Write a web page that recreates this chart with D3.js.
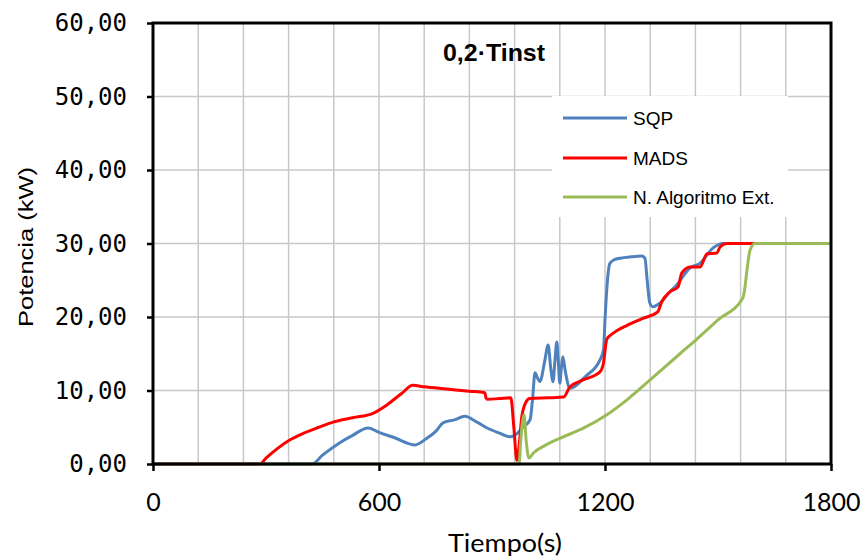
<!DOCTYPE html>
<html>
<head>
<meta charset="utf-8">
<script src="https://cdn.jsdelivr.net/npm/d3@7"></script>
<style>
  body { margin: 0; background: #fff; }
  svg { display: block; }
</style>
</head>
<body>
<div id="chart"></div>
<script>
// Series: time (s) and power (kW)
const sqpTime  = [0, 422, 450, 496, 530, 571, 600, 640, 696, 727, 750, 770, 800, 828, 860, 887, 920, 948, 970, 982, 1001, 1008, 1014, 1020, 1027, 1040, 1049, 1056, 1062, 1067, 1072, 1076, 1080, 1084, 1088, 1095, 1107, 1150, 1186, 1196, 1200, 1205, 1213, 1225, 1240, 1270, 1298, 1306, 1312, 1319, 1327, 1346, 1370, 1391, 1426, 1452, 1487, 1513, 1800];
const sqpPower = [0, 0, 1.2, 2.9, 3.9, 4.9, 4.3, 3.6, 2.6, 3.5, 4.4, 5.6, 6.0, 6.5, 5.7, 4.9, 4.2, 3.7, 4.3, 5.0, 6.0, 9.0, 12.4, 11.8, 11.2, 14.0, 16.2, 13.0, 11.2, 14.0, 16.6, 14.0, 11.0, 13.0, 14.6, 12.5, 10.3, 12.0, 14.1, 15.5, 19.6, 24.0, 27.3, 27.8, 28.0, 28.2, 28.3, 28.0, 25.0, 21.9, 21.4, 21.9, 23.3, 24.4, 26.7, 27.3, 29.4, 30.0, 30.0];

const madsTime  = [0, 284, 300, 330, 364, 400, 440, 478, 530, 584, 620, 660, 690, 720, 780, 840, 881, 884, 888, 920, 950, 958, 966, 972, 979, 990, 1000, 1050, 1090, 1107, 1140, 1186, 1195, 1205, 1222, 1260, 1300, 1340, 1350, 1372, 1394, 1404, 1426, 1452, 1471, 1497, 1505, 1524, 1800];
const madsPower = [0, 0, 0.8, 2.1, 3.3, 4.2, 5.0, 5.7, 6.3, 6.9, 8.0, 9.6, 10.7, 10.5, 10.2, 9.9, 9.7, 9.0, 8.8, 8.9, 9.0, 5.0, 0.5, 2.5, 6.4, 8.4, 8.9, 9.0, 9.1, 10.5, 11.4, 12.5, 13.5, 17.0, 17.8, 18.9, 19.8, 20.7, 22.0, 23.4, 24.1, 26.0, 26.8, 26.8, 28.6, 28.7, 29.5, 30.0, 30.0];

const extTime  = [0, 972, 976, 985, 991, 998, 1010, 1040, 1080, 1140, 1205, 1260, 1319, 1399, 1444, 1500, 1566, 1570, 1577, 1585, 1598, 1800];
const extPower = [0, 0, 3.0, 6.7, 3.0, 0.8, 1.5, 2.5, 3.5, 4.8, 6.7, 8.8, 11.4, 15.0, 17.0, 19.6, 22.6, 23.5, 26.4, 29.1, 30.0, 30.0];

const seriesNames = ["SQP", "MADS", "N. Algoritmo Ext."];
const seriesColors = ["#4f81bd", "#ff0000", "#9bbb59"];

const xTicks = [0, 600, 1200, 1800];
const xGrid = d3.range(0, 1801, 120);
const yTicks = [0, 10, 20, 30, 40, 50, 60];

const chartTitle = "0,2·Tinst";
const xTitle = "Tiempo(s)";
const yTitle = "Potencia (kW)";

// Layout
const W = 864, H = 559;
const plot = {left: 153, right: 831, top: 23, bottom: 464};

const svg = d3.select("#chart").append("svg")
    .attr("width", W)
    .attr("height", H);

const x = d3.scaleLinear().domain([0, 1800]).range([plot.left, plot.right]);
const y = d3.scaleLinear().domain([0, 60]).range([plot.bottom, plot.top]);

const esFormat = d3.formatLocale({decimal: ",", thousands: ".", grouping: [3], currency: ["", ""]}).format(".2f");

// Gridlines
svg.append("g")
    .selectAll("line")
    .data(xGrid)
    .enter().append("line")
    .attr("x1", d => x(d)).attr("x2", d => x(d))
    .attr("y1", plot.top).attr("y2", plot.bottom)
    .attr("stroke", "#c8c8c8")
    .attr("stroke-width", 1.5);

svg.append("g")
    .selectAll("line")
    .data(yTicks)
    .enter().append("line")
    .attr("x1", plot.left).attr("x2", plot.right)
    .attr("y1", d => y(d)).attr("y2", d => y(d))
    .attr("stroke", "#c8c8c8")
    .attr("stroke-width", 1.5);

// Legend background hides the grid behind it
const legend = svg.append("g");
legend.append("rect")
    .attr("x", 552).attr("y", 96)
    .attr("width", 236).attr("height", 121)
    .attr("fill", "#fff");

// Series lines
const series = [
    {time: sqpTime, power: sqpPower},
    {time: madsTime, power: madsPower},
    {time: extTime, power: extPower}
];

const line = d3.line()
    .x(d => x(d[0]))
    .y(d => y(d[1]))
    .curve(d3.curveMonotoneX);

series.forEach((s, i) => {
    svg.append("path")
        .datum(d3.zip(s.time, s.power))
        .attr("d", line)
        .attr("fill", "none")
        .attr("stroke", seriesColors[i])
        .attr("stroke-width", 3)
        .attr("stroke-linejoin", "round");
});

// Plot border
svg.append("rect")
    .attr("x", plot.left).attr("y", plot.top)
    .attr("width", plot.right - plot.left)
    .attr("height", plot.bottom - plot.top)
    .attr("fill", "none")
    .attr("stroke", "#000")
    .attr("stroke-width", 3);

// Y axis
const yAxis = svg.append("g")
    .attr("transform", `translate(${plot.left},0)`)
    .call(d3.axisLeft(y).tickValues(yTicks).tickSize(6).tickPadding(20).tickFormat(esFormat));
yAxis.select(".domain").remove();
yAxis.selectAll(".tick line").attr("stroke-width", 2.5);
yAxis.selectAll("text")
    .style("font-family", "'DejaVu Sans Mono', monospace")
    .style("font-size", "24px")
    .attr("fill", "#000");

// X axis
const xAxis = svg.append("g")
    .attr("transform", `translate(0,${plot.bottom})`)
    .call(d3.axisBottom(x).tickValues(xTicks).tickSize(7).tickFormat(d3.format("d")));
xAxis.select(".domain").remove();
xAxis.selectAll(".tick line").attr("stroke-width", 2.5);
xAxis.selectAll("text")
    .attr("y", 47)
    .attr("dy", null)
    .style("font-family", "Lato, sans-serif")
    .style("font-size", "25px")
    .attr("fill", "#000");

// Axis titles
svg.append("text")
    .attr("x", 505)
    .attr("y", 552)
    .attr("text-anchor", "middle")
    .attr("textLength", 114)
    .attr("lengthAdjust", "spacingAndGlyphs")
    .style("font-family", "Lato, sans-serif")
    .style("font-size", "25px")
    .text(xTitle);

svg.append("text")
    .attr("transform", "translate(33,247) rotate(-90)")
    .attr("text-anchor", "middle")
    .attr("textLength", 160)
    .attr("lengthAdjust", "spacingAndGlyphs")
    .style("font-family", "'Liberation Sans', Arial, sans-serif")
    .style("font-size", "21px")
    .text(yTitle);

// Chart title inside the plot
svg.append("text")
    .attr("x", 494)
    .attr("y", 61)
    .attr("text-anchor", "middle")
    .attr("textLength", 102)
    .attr("lengthAdjust", "spacingAndGlyphs")
    .style("font-family", "'Liberation Sans', Arial, sans-serif")
    .style("font-size", "24px")
    .style("font-weight", "bold")
    .text(chartTitle);

// Legend entries
const legendY = [118, 158, 197];
seriesNames.forEach((name, i) => {
    legend.append("line")
        .attr("x1", 563).attr("x2", 627)
        .attr("y1", legendY[i]).attr("y2", legendY[i])
        .attr("stroke", seriesColors[i])
        .attr("stroke-width", 3);
    legend.append("text")
        .attr("x", 633)
        .attr("y", legendY[i] + 7)
        .style("font-family", "'Liberation Sans', Arial, sans-serif")
        .style("font-size", "19px")
        .text(name);
});
</script>
</body>
</html>
